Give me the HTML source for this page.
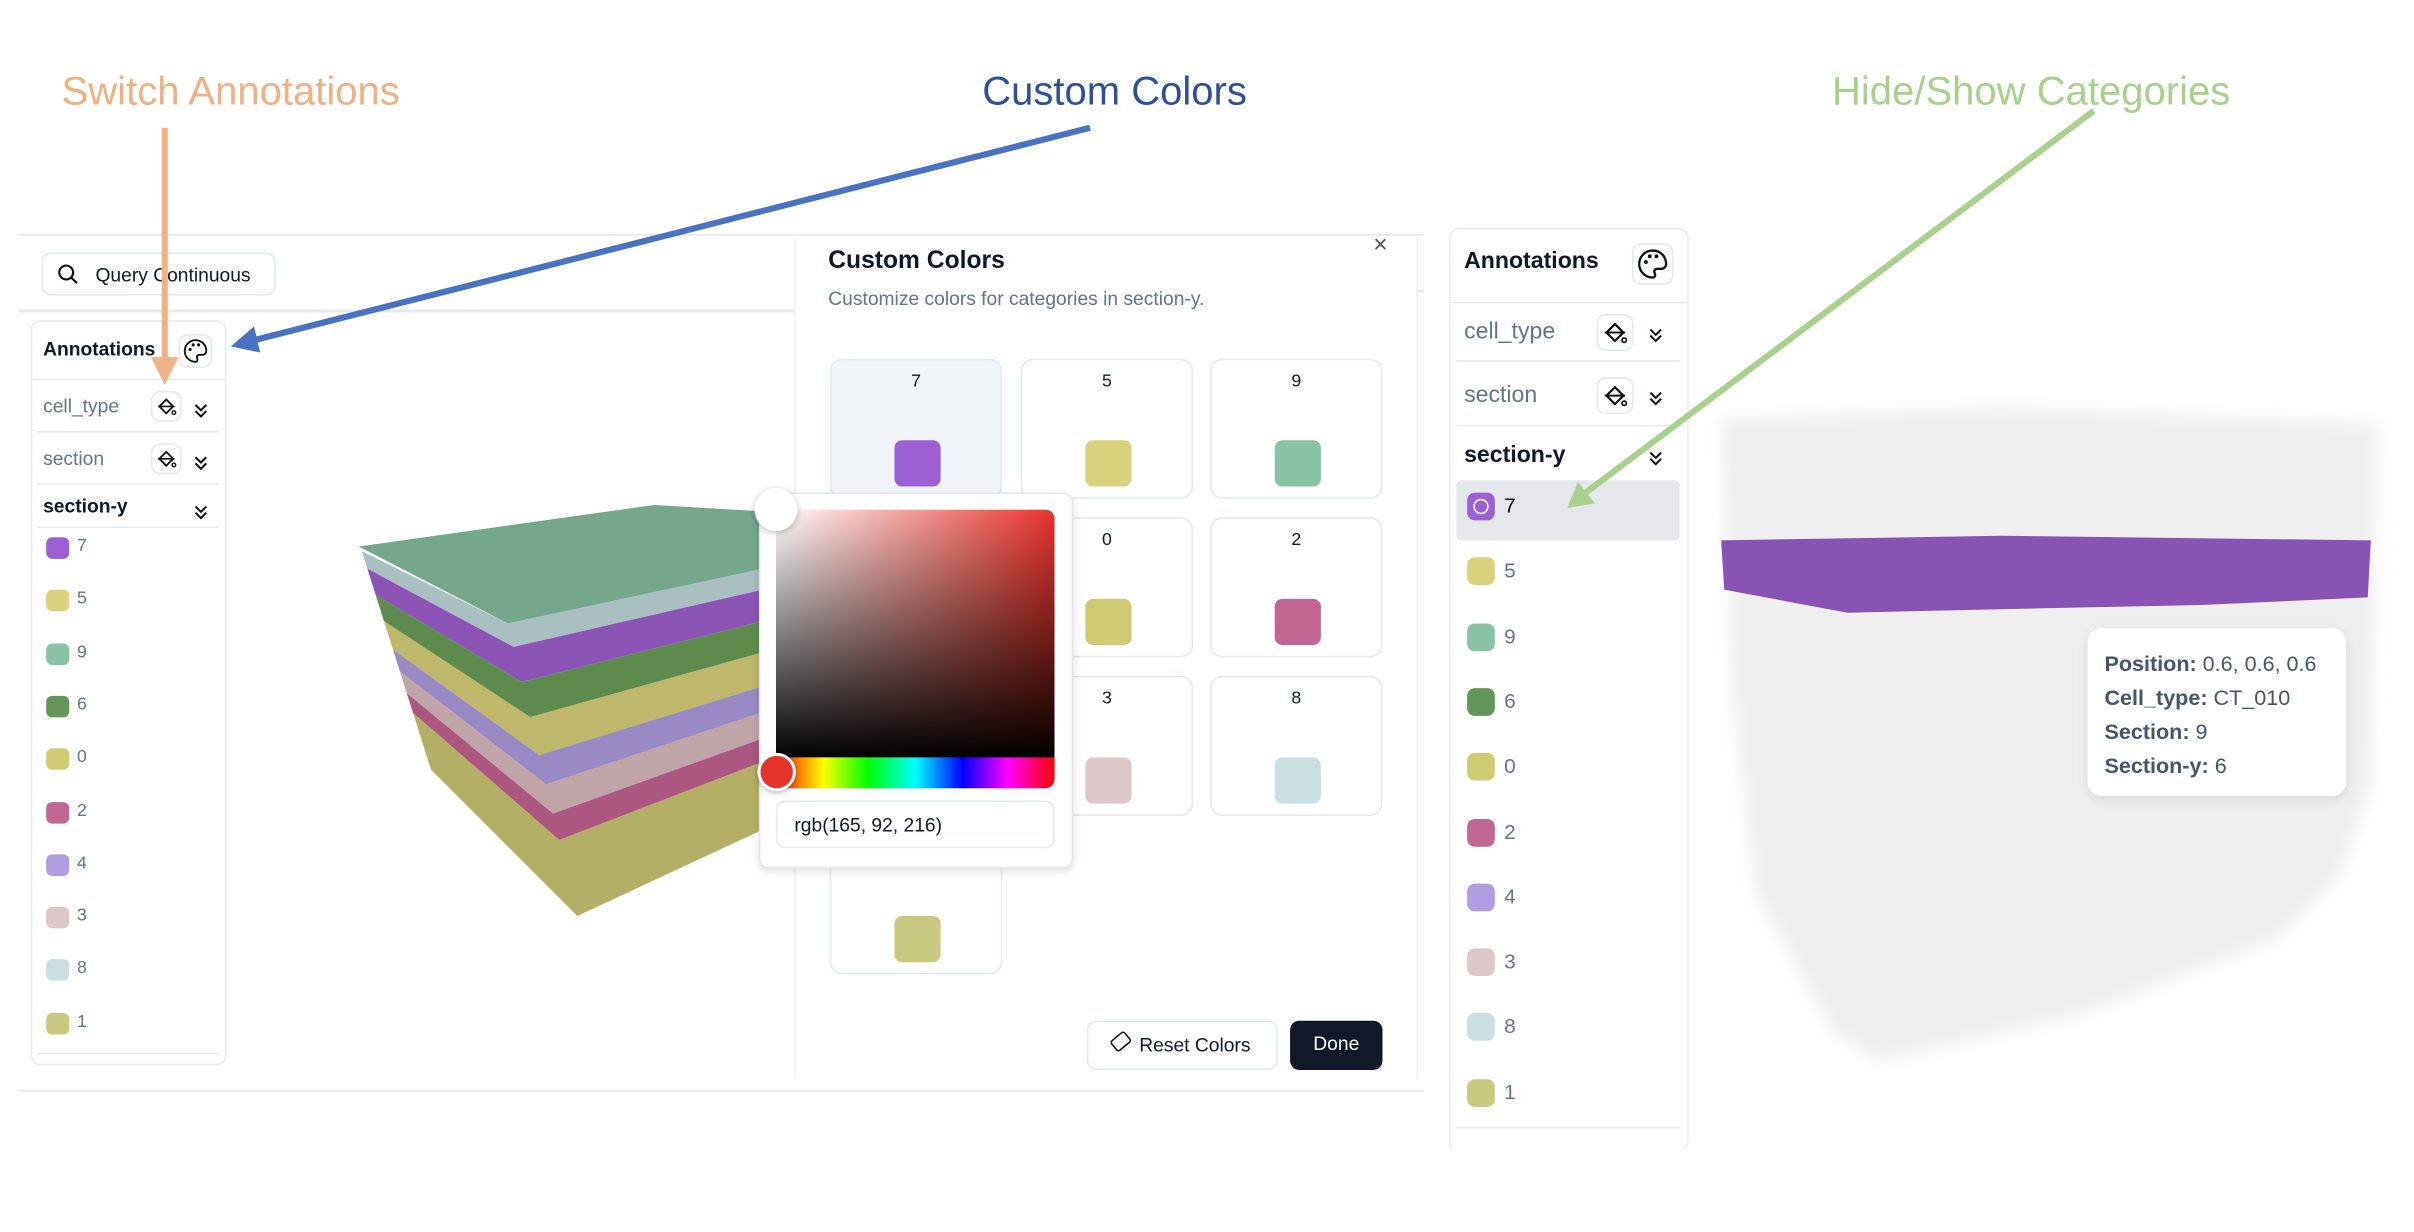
<!DOCTYPE html>
<html><head><meta charset="utf-8"><style>
*{box-sizing:border-box;margin:0;padding:0}
html,body{width:2414px;height:1230px;overflow:hidden;background:#fff}
#s{position:absolute;left:0;top:0;width:1568px;height:800px;transform:scale(1.5395);transform-origin:0 0;font-family:"Liberation Sans",sans-serif;color:#0f172a}
.a{position:absolute}
.lbl{position:absolute;font-size:26px;white-space:nowrap}
.sw{position:absolute;border-radius:4px}
.it{position:absolute;font-size:11.5px;color:#64748b}
.card{position:absolute;width:112px;height:91px;border:1px solid #e2e8f0;border-radius:8px;background:#fff}
.card span{position:absolute;top:8px;width:100%;text-align:center;font-size:11.5px;color:#0f172a}
.card i{position:absolute;left:41px;top:52px;width:30px;height:30px;border-radius:5px}
.ib{position:absolute;width:20px;height:20px;border:1px solid #e2e8f0;border-radius:6px;background:#fff;font-size:11px;text-align:center;line-height:18px}
.chev{position:absolute}
</style></head><body><div id="s">

<div class="lbl" style="left:40px;top:44px;color:#efb084">Switch Annotations</div>
<div class="lbl" style="left:638px;top:44px;color:#2f4f9a">Custom Colors</div>
<div class="lbl" style="left:1190px;top:44px;color:#a8d08d">Hide/Show Categories</div>

<div class="a" style="left:12px;top:152px;width:913px;height:1px;background:#e5e7eb"></div>
<div class="a" style="left:12px;top:201px;width:505px;height:2px;background:#e5e9f0"></div>
<div class="a" style="left:920px;top:188px;width:5px;height:2px;background:#e5e9f0"></div>
<div class="a" style="left:12px;top:708px;width:913px;height:1px;background:#e5e7eb"></div>

<div class="a" style="left:27px;top:164px;width:152px;height:28px;border:1px solid #e2e8f0;border-radius:6px;font-size:12.5px;padding:7px 0 0 34px">Query Continuous</div>
<svg class="a" style="left:37px;top:171px" width="14" height="14"><circle cx="6" cy="6" r="4.5" fill="none" stroke="#111" stroke-width="1.4"/><line x1="9.5" y1="9.5" x2="13" y2="13" stroke="#111" stroke-width="1.4"/></svg>

<div class="a" style="left:20px;top:208px;width:127px;height:484px;border:1px solid #e5e9f0;border-radius:6px"></div>
<div class="a" style="left:28px;top:220px;font-size:12.5px;font-weight:bold">Annotations</div>
<div class="ib pal" style="left:116px;top:217px;width:22px;height:22px"></div>
<div class="a" style="left:20px;top:246px;width:127px;height:1px;background:#e5e9f0"></div>
<div class="a" style="left:28px;top:257px;font-size:12.5px;color:#64748b">cell_type</div>
<div class="ib bk" style="left:98px;top:254px"></div><div class="chev" style="left:126px;top:259px"></div>
<div class="a" style="left:24px;top:280px;width:118px;height:1px;background:#e5e9f0"></div>
<div class="a" style="left:28px;top:291px;font-size:12.5px;color:#64748b">section</div>
<div class="ib bk" style="left:98px;top:288px"></div><div class="chev" style="left:126px;top:293px"></div>
<div class="a" style="left:24px;top:314px;width:118px;height:1px;background:#e5e9f0"></div>
<div class="a" style="left:28px;top:322px;font-size:12.5px;font-weight:bold">section-y</div>
<div class="chev" style="left:126px;top:325px"></div>
<div class="a" style="left:24px;top:342px;width:118px;height:1px;background:#e5e9f0"></div>
<div class="a" style="left:24px;top:684px;width:118px;height:1px;background:#e5e9f0"></div>

<svg class="a" style="left:0;top:0" width="520" height="620" id="cube"></svg>

<div class="a" style="left:516px;top:155px;width:405px;height:546px;border-left:1px solid #eef0f3;border-right:1px solid #eef0f3;background:#fff"></div>
<div class="a" style="left:538px;top:161px;font-size:16px;font-weight:bold">Custom Colors</div>
<div class="a" style="left:538px;top:187px;font-size:12.5px;color:#64748b">Customize colors for categories in section-y.</div>
<div class="a" style="left:892px;top:151px;font-size:16px;color:#555">×</div>
<div class="card" style="left:539px;top:233px;background:#f1f5f9"><span>7</span><i style="background:#9b60d4"></i></div>
<div class="card" style="left:663px;top:233px"><span>5</span><i style="background:#d9d27c"></i></div>
<div class="card" style="left:786px;top:233px"><span>9</span><i style="background:#88c3a5"></i></div>
<div class="card" style="left:539px;top:336px"><span>6</span><i style="background:#64955a"></i></div>
<div class="card" style="left:663px;top:336px"><span>0</span><i style="background:#cfcb72"></i></div>
<div class="card" style="left:786px;top:336px"><span>2</span><i style="background:#c06690"></i></div>
<div class="card" style="left:539px;top:439px"><span>4</span><i style="background:#b09ce0"></i></div>
<div class="card" style="left:663px;top:439px"><span>3</span><i style="background:#dcc8ca"></i></div>
<div class="card" style="left:786px;top:439px"><span>8</span><i style="background:#cadfe2"></i></div>
<div class="card" style="left:539px;top:542px"><span>1</span><i style="background:#c8c97f"></i></div>
<div class="a" style="left:706px;top:663px;width:124px;height:32px;border:1px solid #e2e8f0;border-radius:6px;font-size:12.5px;padding:8px 0 0 33px">Reset Colors</div>
<div class="a" style="left:722px;top:672px;width:12px;height:9px;border:1.5px solid #111;transform:rotate(-40deg);border-radius:2px"></div>
<div class="a" style="left:838px;top:663px;width:60px;height:32px;background:#111827;border-radius:6px;color:#fff;font-size:12.5px;text-align:center;padding-top:8px">Done</div>

<div class="a" style="left:493px;top:320px;width:204px;height:244px;background:#fff;border:1px solid #e5e7eb;border-radius:6px;box-shadow:0 2px 6px rgba(0,0,0,.12)"></div>
<div class="a" style="left:504px;top:331px;width:181px;height:162px;border-radius:6px 6px 0 0;background:linear-gradient(to top,#000,rgba(0,0,0,0)),linear-gradient(to right,#fff,#e8332a)"></div>
<div class="a" style="left:504px;top:492px;width:181px;height:20px;border-radius:0 0 6px 6px;background:linear-gradient(to right,#f00,#ff0 17%,#0f0 33%,#0ff 50%,#00f 67%,#f0f 83%,#f00)"></div>
<div class="a" style="left:490px;top:317px;width:28px;height:28px;border-radius:50%;background:#fff;box-shadow:0 1px 4px rgba(0,0,0,.25)"></div>
<div class="a" style="left:492px;top:489px;width:25px;height:25px;border-radius:50%;background:#e8332a;border:2px solid #fff;box-shadow:0 1px 3px rgba(0,0,0,.3)"></div>
<div class="a" style="left:504px;top:520px;width:181px;height:31px;border:1px solid #e2e8f0;border-radius:6px;font-size:12.5px;padding:8px 0 0 11px">rgb(165, 92, 216)</div>

<div class="a" style="left:941px;top:148px;width:156px;height:600px;border:1px solid #e5e9f0;border-radius:7px;border-bottom:none"></div>
<div class="a" style="left:951px;top:161px;font-size:15px;font-weight:bold">Annotations</div>
<div class="ib pal2" style="left:1060px;top:158px;width:27px;height:27px"></div>
<div class="a" style="left:941px;top:196px;width:156px;height:1px;background:#e5e9f0"></div>
<div class="a" style="left:951px;top:207px;font-size:15px;color:#64748b">cell_type</div>
<div class="ib bk" style="left:1037px;top:204px;width:24px;height:24px"></div><div class="chev" style="left:1071px;top:210px"></div>
<div class="a" style="left:946px;top:234px;width:145px;height:1px;background:#e5e9f0"></div>
<div class="a" style="left:951px;top:248px;font-size:15px;color:#64748b">section</div>
<div class="ib bk" style="left:1037px;top:245px;width:24px;height:24px"></div><div class="chev" style="left:1071px;top:251px"></div>
<div class="a" style="left:946px;top:276px;width:145px;height:1px;background:#e5e9f0"></div>
<div class="a" style="left:951px;top:287px;font-size:15px;font-weight:bold">section-y</div>
<div class="chev" style="left:1071px;top:290px"></div>
<div class="a" style="left:946px;top:312px;width:145px;height:39px;background:#e5e7eb;border-radius:3px"></div>
<div class="a" style="left:946px;top:732px;width:145px;height:1px;background:#e5e9f0"></div>

<svg class="a" style="left:1100px;top:250px" width="460" height="460">
<defs><filter id="b"><feGaussianBlur stdDeviation="5"/></filter></defs>
<polygon filter="url(#b)" fill="#efefef" points="18,22 200,14 445,25 440,260 420,320 380,360 250,410 120,440 90,420 40,330 25,200"/>
<path d="M18,101 L200,98 L440,101 L438,138 L330,143 L230,145 L100,148 L20,133Z" fill="#8753b5"/>
</svg>
<div class="a" style="left:1356px;top:408px;width:168px;height:109px;background:#fff;border-radius:9px;box-shadow:0 2px 8px rgba(0,0,0,.1);font-size:14px;color:#475569;line-height:22px;padding:12px 0 0 11px">
<b>Position:</b> 0.6, 0.6, 0.6<br><b>Cell_type:</b> CT_010<br><b>Section:</b> 9<br><b>Section-y:</b> 6</div>

<div id="lists"></div>

<svg class="a" style="left:0;top:0" width="1568" height="800">
<line x1="107" y1="83" x2="107" y2="234" stroke="#efb387" stroke-width="4"/>
<polygon points="98,232 116,232 107,250" fill="#efb387"/>
<line x1="708" y1="83" x2="165" y2="221" stroke="#4a72c4" stroke-width="4"/>
<polygon points="150,225 165,212 169,229" fill="#4a72c4"/>
<line x1="1360" y1="72" x2="1030" y2="320" stroke="#a9d08e" stroke-width="4"/>
<polygon points="1018,330 1025,313 1036,327" fill="#a9d08e"/>
</svg>
</div>
<script>
var cols=["#9b60d4","#d9d27c","#88c3a5","#64955a","#cfcb72","#c06690","#b09ce0","#dcc8ca","#cadfe2","#c8c97f"],labs=["7","5","9","6","0","2","4","3","8","1"];
var h="";
for(var i=0;i<10;i++){
 var y=356+i*34.3;
 h+='<div class="sw" style="left:30px;top:'+(y-7)+'px;width:15px;height:14px;background:'+cols[i]+'"></div><div class="it" style="left:50px;top:'+(y-7)+'px">'+labs[i]+'</div>';
 var y2=329+i*42.3;
 h+='<div class="sw" style="left:953px;top:'+(y2-9)+'px;width:18px;height:18px;border-radius:5px;background:'+cols[i]+'"></div><div class="it" style="left:977px;top:'+(y2-8)+'px;font-size:13.5px;color:'+(i==0?'#111':'#64748b')+'">'+labs[i]+'</div>';
}
h+='<div class="a" style="left:957px;top:324px;width:10px;height:10px;border:1px solid #fff;border-radius:50%"></div>';
document.getElementById('lists').innerHTML=h;
var chev='<svg width="9" height="10"><polyline points="1,1 4.5,4.5 8,1" fill="none" stroke="#111" stroke-width="1.3"/><polyline points="1,5 4.5,8.5 8,5" fill="none" stroke="#111" stroke-width="1.3"/></svg>';
document.querySelectorAll('.chev').forEach(function(e){e.innerHTML=chev});
var pal='<svg width="100%" height="100%" viewBox="0 0 20 20"><path d="M10,3 a7,7 0 1 0 0,14 c1.5,0 1.5,-1.5 1,-2.5 c-0.5,-1 0.3,-2 1.5,-2 h2 a2.5,2.5 0 0 0 2.5,-2.5 C17,6 14,3 10,3z" fill="none" stroke="#111" stroke-width="1.2"/><circle cx="6.5" cy="9" r="1" fill="#111"/><circle cx="8.5" cy="6" r="1" fill="#111"/><circle cx="12" cy="6" r="1" fill="#111"/></svg>';
document.querySelectorAll('.pal,.pal2').forEach(function(e){e.innerHTML=pal});
var bk='<svg width="100%" height="100%" viewBox="0 0 20 20"><path d="M5,10 L10,5 L15,10 L10,15Z" fill="none" stroke="#111" stroke-width="1.3"/><line x1="4" y1="10" x2="16" y2="10" stroke="#111" stroke-width="1.2"/><circle cx="15.5" cy="14.5" r="1.3" fill="none" stroke="#111"/></svg>';
document.querySelectorAll('.bk').forEach(function(e){e.innerHTML=bk});
function L(a,b,t){return [a[0]+(b[0]-a[0])*t,a[1]+(b[1]-a[1])*t]}
var A=[235,358],B=[280,500],V=[330,405],W=[375,595],R=[493,370],S=[493,540];
var bands=[[0,.08,"#a9bfc0"],[.08,.2,"#8b55b8"],[.2,.32,"#5e8a4e"],[.32,.45,"#bdb86a"],[.45,.55,"#9a8ac4"],[.55,.65,"#c0a5a8"],[.65,.74,"#ac5680"],[.74,1,"#b3b065"]];
var s='<polygon fill="#76a78c" points="233,355 425,328 493,332 493,370 330,405"/>';
bands.forEach(function(b){var p=[L(A,B,b[0]),L(V,W,b[0]),L(R,S,b[0]),L(R,S,b[1]),L(V,W,b[1]),L(A,B,b[1])];
s+='<polygon fill="'+b[2]+'" points="'+p.map(function(q){return q.join(",")}).join(" ")+'"/>';});
document.getElementById('cube').innerHTML=s;
</script>
</body></html>
